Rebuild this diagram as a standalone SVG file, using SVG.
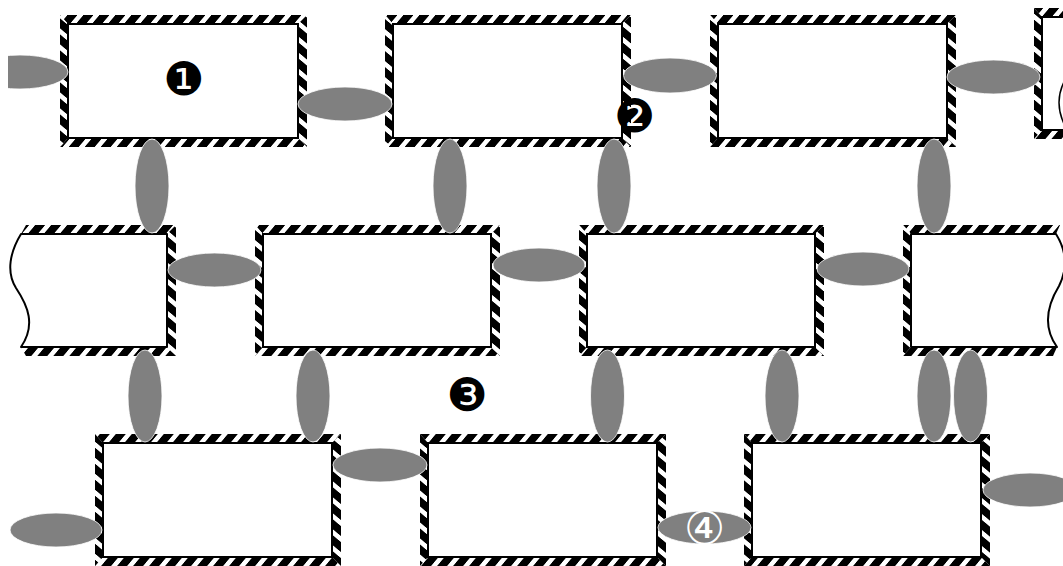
<svg xmlns="http://www.w3.org/2000/svg" width="1063" height="566" viewBox="0 0 1063 566">
<defs>
<pattern id="ph" patternUnits="userSpaceOnUse" width="16" height="16" patternTransform="skewX(-40)"><rect width="16" height="16" fill="#fff"/><rect width="10" height="16" fill="#000"/></pattern>
<pattern id="pv" patternUnits="userSpaceOnUse" width="16" height="16" patternTransform="skewY(40)"><rect width="16" height="16" fill="#fff"/><rect width="16" height="10" fill="#000"/></pattern>
<clipPath id="clipL"><rect x="8" y="0" width="200" height="200"/></clipPath>
</defs>
<style>
.h{fill:url(#ph)}
.v{fill:url(#pv)}
.in{fill:#fff;stroke:#000;stroke-width:2}
.w{fill:#fff;stroke:#000;stroke-width:2;stroke-linejoin:round}
.c ellipse{fill:#808080;stroke:#fff;stroke-width:0.8}
.lab{font-family:"DejaVu Sans","Noto Sans CJK SC",sans-serif;font-size:46px;text-anchor:middle;dominant-baseline:central}
</style>
<g id="boxA">
<polygon class="h" points="60,15 307,15 298,24 68,24"/>
<polygon class="h" points="68,138 298,138 307,147 60,147"/>
<polygon class="v" points="60,15 68,24 68,138 60,147"/>
<polygon class="v" points="298,24 307,15 307,147 298,138"/>
<rect class="in" x="68" y="24" width="230" height="114"/>
</g>
<g id="boxB">
<polygon class="h" points="385,15 631,15 622,24 393,24"/>
<polygon class="h" points="393,138 622,138 631,147 385,147"/>
<polygon class="v" points="385,15 393,24 393,138 385,147"/>
<polygon class="v" points="622,24 631,15 631,147 622,138"/>
<rect class="in" x="393" y="24" width="229" height="114"/>
</g>
<g id="boxC">
<polygon class="h" points="710,15 956,15 947,24 718,24"/>
<polygon class="h" points="718,138 947,138 956,147 710,147"/>
<polygon class="v" points="710,15 718,24 718,138 710,147"/>
<polygon class="v" points="947,24 956,15 956,147 947,138"/>
<rect class="in" x="718" y="24" width="229" height="114"/>
</g>
<g id="boxD">
<polygon class="h" points="1034,8 1070,8 1070,17 1042,17"/>
<polygon class="h" points="1042,130 1070,130 1070,139 1034,139"/>
<polygon class="v" points="1034,8 1042,17 1042,130 1034,139"/>
<rect class="in" x="1042" y="17" width="40" height="113"/>
<path d="M1064,82 Q1054,102 1064,124" fill="none" stroke="#000" stroke-width="1.5"/>
</g>
<g id="boxE">
<polygon class="h" points="26,225 176,225 167,234 21,234"/>
<polygon class="h" points="21,347 167,347 176,356 26,356"/>
<polygon class="v" points="167,234 176,225 176,356 167,347"/>
<path class="w" d="M21,234 L167,234 L167,347 L21,347 C36,325 28,306 16,288 C6,272 10,252 21,234 Z"/>
</g>
<g id="boxF">
<polygon class="h" points="255,225 500,225 491,234 263,234"/>
<polygon class="h" points="263,347 491,347 500,356 255,356"/>
<polygon class="v" points="255,225 263,234 263,347 255,356"/>
<polygon class="v" points="491,234 500,225 500,356 491,347"/>
<rect class="in" x="263" y="234" width="228" height="113"/>
</g>
<g id="boxG">
<polygon class="h" points="579,225 824,225 815,234 587,234"/>
<polygon class="h" points="587,347 815,347 824,356 579,356"/>
<polygon class="v" points="579,225 587,234 587,347 579,356"/>
<polygon class="v" points="815,234 824,225 824,356 815,347"/>
<rect class="in" x="587" y="234" width="228" height="113"/>
</g>
<g id="boxH">
<polygon class="h" points="903,225 1060,225 1056,234 911,234"/>
<polygon class="h" points="911,347 1057,347 1053,356 903,356"/>
<polygon class="v" points="903,225 911,234 911,347 903,356"/>
<path class="w" d="M911,234 L1056,234 C1066,250 1068,268 1059,286 C1048,304 1042,326 1057,347 L911,347 Z"/>
</g>
<g id="boxI">
<polygon class="h" points="95,434 341,434 332,443 103,443"/>
<polygon class="h" points="103,557 332,557 341,566 95,566"/>
<polygon class="v" points="95,434 103,443 103,557 95,566"/>
<polygon class="v" points="332,443 341,434 341,566 332,557"/>
<rect class="in" x="103" y="443" width="229" height="114"/>
</g>
<g id="boxJ">
<polygon class="h" points="420,434 666,434 657,443 428,443"/>
<polygon class="h" points="428,557 657,557 666,566 420,566"/>
<polygon class="v" points="420,434 428,443 428,557 420,566"/>
<polygon class="v" points="657,443 666,434 666,566 657,557"/>
<rect class="in" x="428" y="443" width="229" height="114"/>
</g>
<g id="boxK">
<polygon class="h" points="744,434 990,434 981,443 752,443"/>
<polygon class="h" points="752,557 981,557 990,566 744,566"/>
<polygon class="v" points="744,434 752,443 752,557 744,566"/>
<polygon class="v" points="981,443 990,434 990,566 981,557"/>
<rect class="in" x="752" y="443" width="229" height="114"/>
</g>
<g id="connectors" class="c">
<ellipse cx="20" cy="72" rx="48" ry="17" clip-path="url(#clipL)"/>
<ellipse cx="345" cy="104" rx="47" ry="17"/>
<ellipse cx="670" cy="75.5" rx="46.5" ry="17.5"/>
<ellipse cx="993.5" cy="77" rx="46.5" ry="17"/>
<ellipse cx="152" cy="186" rx="17" ry="47"/>
<ellipse cx="450" cy="186" rx="17" ry="47"/>
<ellipse cx="614" cy="186" rx="17" ry="47"/>
<ellipse cx="934" cy="186" rx="17" ry="47"/>
<ellipse cx="214.5" cy="270" rx="46.5" ry="17"/>
<ellipse cx="539" cy="265" rx="46" ry="17"/>
<ellipse cx="863" cy="269" rx="46" ry="17"/>
<ellipse cx="145" cy="396" rx="17" ry="46"/>
<ellipse cx="313" cy="396" rx="17" ry="46"/>
<ellipse cx="607.5" cy="396" rx="17" ry="46"/>
<ellipse cx="782" cy="396" rx="17" ry="46"/>
<ellipse cx="934" cy="396" rx="17" ry="46"/>
<ellipse cx="970.5" cy="396" rx="17" ry="46"/>
<ellipse cx="380" cy="465" rx="47" ry="17"/>
<ellipse cx="704.5" cy="527.5" rx="46.5" ry="16.5"/>
<ellipse cx="56" cy="530" rx="46" ry="17"/>
<ellipse cx="1030" cy="490" rx="47" ry="17"/>
</g>
<g id="labels">
<text class="lab" x="183.5" y="78.5">❶</text>
<text class="lab" x="634.5" y="116">❷</text>
<text class="lab" x="467" y="395">❸</text>
<text class="lab" x="704.5" y="528" fill="#fff">④</text>
</g>
</svg>
